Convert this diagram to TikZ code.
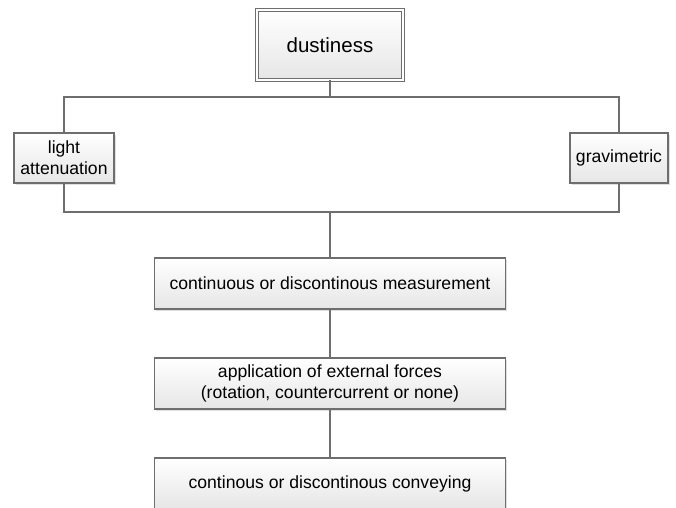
\documentclass[tikz,border=0pt]{standalone}
\usepackage{fontspec}
\setmainfont{Liberation Sans}
\usetikzlibrary{shadows}

\definecolor{boxline}{HTML}{6E6E6E}
\definecolor{boxlow}{HTML}{E6E6E6}

\tikzset{
  stepbox/.style={draw=boxline, line width=1.2pt, top color=white, bottom color=boxlow,
    inner sep=0pt, align=center, font=\fontsize{17.6}{21}\selectfont,
    drop shadow={shadow xshift=1.5pt, shadow yshift=-1.5pt, fill=black!25}},
  link/.style={draw=boxline, line width=1.2pt}
}

\begin{document}
\begin{tikzpicture}[x=1pt,y=-1pt]
    \useasboundingbox (0,0) rectangle (676,507);
    \clip (0,0) rectangle (676,507);

    % top box
    \node[stepbox, double, double distance=2pt, line width=0.9pt, minimum width=146pt, minimum height=70pt,
      font=\fontsize{20.5}{24}\selectfont] (dust) at (330,45) {dustiness};

    % methods
    \node[stepbox, minimum width=100pt, minimum height=50pt] (light) at (64,158) {light\\attenuation};
    \node[stepbox, minimum width=98pt, minimum height=50pt] (grav) at (619,158) {gravimetric};

    % chain
    \node[stepbox, minimum width=351pt, minimum height=51pt] (meas) at (330,283.5) {continuous or discontinous measurement};
    \node[stepbox, minimum width=351pt, minimum height=51pt] (appl) at (330,383.5) {application of external forces\\(rotation, countercurrent or none)};
    \node[stepbox, minimum width=351pt, minimum height=51pt] (conv) at (330,483.5) {continous or discontinous conveying};

    \coordinate (tj) at (330,97);
    \coordinate (bj) at (330,212);

    \draw[link] (dust.south) -- (tj);
    \draw[link] (light.north) |- (tj) -| (grav.north);
    \draw[link] (light.south) |- (bj) -| (grav.south);
    \draw[link] (bj) -- (meas.north);
    \draw[link] (meas.south) -- (appl.north);
    \draw[link] (appl.south) -- (conv.north);
\end{tikzpicture}
\end{document}
